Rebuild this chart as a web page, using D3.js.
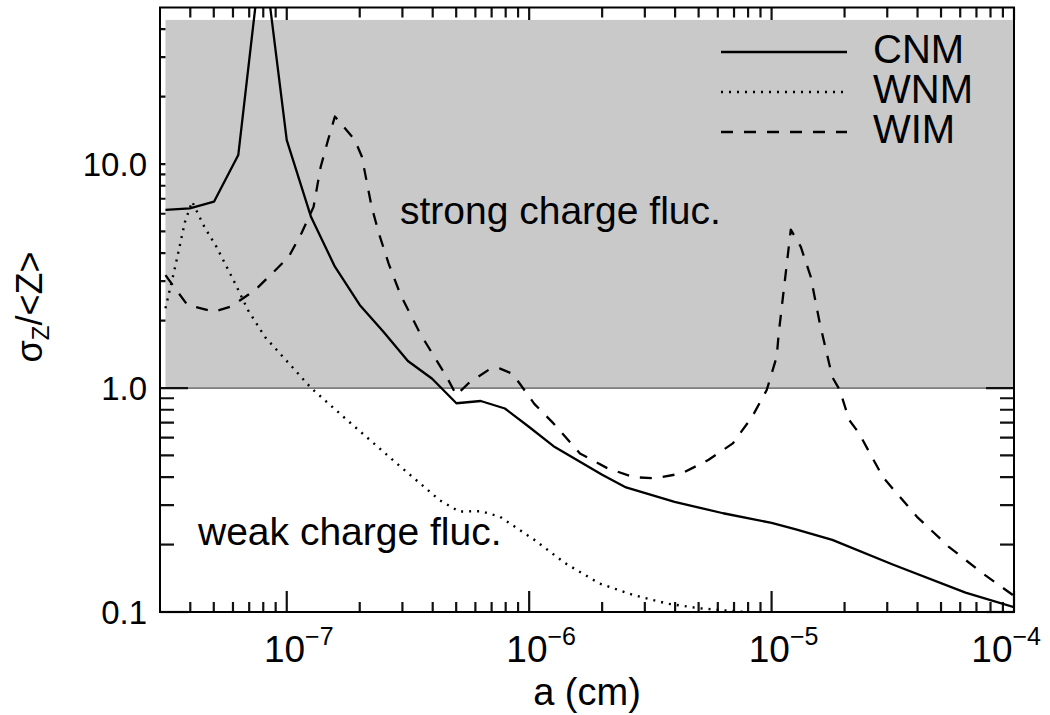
<!DOCTYPE html>
<html>
<head>
<meta charset="utf-8">
<script src="https://cdn.jsdelivr.net/npm/d3@7"></script>
<style>
  html, body { margin: 0; padding: 0; background: #fff; }
  svg { display: block; font-family: "Liberation Sans", Arial, Helvetica, sans-serif; }
</style>
</head>
<body>
<svg id="chart" width="1050" height="715"></svg>
<script>
// Grain radius a (cm) and relative charge fluctuation sigma_Z/<Z> for three ISM phases
const aCNM = [3.16e-8, 3.98e-8, 5.01e-8, 6.31e-8, 7.94e-8, 1.0e-7, 1.26e-7, 1.58e-7, 2.0e-7, 2.51e-7,
  3.16e-7, 3.98e-7, 5.01e-7, 6.31e-7, 7.94e-7, 1.0e-6, 1.26e-6, 2.0e-6, 2.51e-6, 3.98e-6,
  6.31e-6, 1.0e-5, 1.26e-5, 1.78e-5, 3.16e-5, 6.31e-5, 1.0e-4];
const vCNM = [6.24, 6.34, 6.79, 10.97, 95, 12.8, 5.8, 3.48, 2.35, 1.78,
  1.32, 1.1, 0.855, 0.875, 0.81, 0.67, 0.55, 0.41, 0.36, 0.31,
  0.276, 0.25, 0.234, 0.21, 0.163, 0.122, 0.105];

const aWNM = [3.16e-8, 3.47e-8, 3.8e-8, 4.07e-8, 4.57e-8, 5.13e-8, 6.03e-8, 6.92e-8, 8.13e-8, 1.02e-7,
  1.26e-7, 1.74e-7, 2.88e-7, 4.27e-7, 5.13e-7, 6.31e-7, 7.59e-7, 1.05e-6, 1.41e-6, 1.95e-6,
  2.69e-6, 3.72e-6, 5.01e-6, 6.92e-6, 1.0e-5];
const vWNM = [2.27, 3.5, 5.5, 6.8, 5.25, 4.27, 3.03, 2.23, 1.69, 1.29,
  1.0, 0.733, 0.455, 0.316, 0.281, 0.282, 0.266, 0.21, 0.165, 0.134,
  0.119, 0.109, 0.104, 0.101, 0.098];

const aWIM = [3.16e-8, 3.89e-8, 5.01e-8, 5.89e-8, 7.41e-8, 8.71e-8, 1.02e-7, 1.15e-7, 1.29e-7, 1.38e-7,
  1.48e-7, 1.58e-7, 1.91e-7, 2.04e-7, 2.24e-7, 2.4e-7, 2.63e-7, 2.95e-7, 3.55e-7, 4.57e-7,
  5.01e-7, 5.62e-7, 6.92e-7, 7.59e-7, 8.51e-7, 9.12e-7, 1.05e-6, 1.26e-6, 1.62e-6, 2.09e-6,
  2.69e-6, 3.31e-6, 4.27e-6, 5.5e-6, 6.92e-6, 8.32e-6, 9.55e-6, 1.05e-5, 1.07e-5, 1.2e-5,
  1.32e-5, 1.45e-5, 1.58e-5, 1.78e-5, 1.91e-5, 2.09e-5, 2.29e-5, 2.88e-5, 3.98e-5, 5.37e-5,
  7.41e-5, 1.0e-4];
const vWIM = [3.19, 2.35, 2.19, 2.31, 2.74, 3.25, 3.86, 4.91, 6.44, 9.7,
  12.8, 16.3, 12.8, 10.8, 6.44, 4.9, 3.6, 2.6, 1.75, 1.12,
  0.93, 1.05, 1.22, 1.22, 1.16, 1.05, 0.85, 0.695, 0.51, 0.44,
  0.40, 0.395, 0.416, 0.478, 0.566, 0.745, 0.98, 1.38, 1.75, 5.1,
  4.27, 3.14, 1.95, 1.12, 0.98, 0.72, 0.63, 0.40, 0.266, 0.196,
  0.149, 0.118];

const seriesNames = ["CNM", "WNM", "WIM"];

// Axis ranges and ticks
const xDomain = [3e-8, 1e-4];
const yDomain = [0.1, 50];
const xMajor = [1e-7, 1e-6, 1e-5, 1e-4];
const xMajorExp = ["−7", "−6", "−5", "−4"];
const xMinor = [4e-8, 5e-8, 6e-8, 7e-8, 8e-8, 9e-8,
  2e-7, 3e-7, 4e-7, 5e-7, 6e-7, 7e-7, 8e-7, 9e-7,
  2e-6, 3e-6, 4e-6, 5e-6, 6e-6, 7e-6, 8e-6, 9e-6,
  2e-5, 3e-5, 4e-5, 5e-5, 6e-5, 7e-5, 8e-5, 9e-5];
const yMajor = [0.1, 1, 10];
const yMajorLabels = ["0.1", "1.0", "10.0"];
const yMinor = [0.2, 0.3, 0.4, 0.5, 0.6, 0.7, 0.8, 0.9, 2, 3, 4, 5, 6, 7, 8, 9, 20, 30, 40];

// Shaded "strong fluctuation" band: sigma/<Z> above unity
const shadeA = [3.16e-8, 1e-4];
const shadeV = [1, 44];

const annotations = ["strong charge fluc.", "weak charge fluc."];

// ---- layout ----
const svg = d3.select("#chart");
const L = 160, R = 1014, T = 7.5, B = 612;
const x = d3.scaleLog().domain(xDomain).range([L, R]);
const y = d3.scaleLog().domain(yDomain).range([B, T]);
const bandX0 = x(shadeA[0]), bandX1 = x(shadeA[1]);
const bandY0 = y(shadeV[1]), bandY1 = y(shadeV[0]);

// shaded band
svg.append("rect")
  .attr("x", bandX0).attr("y", bandY0)
  .attr("width", bandX1 - bandX0)
  .attr("height", bandY1 - bandY0)
  .attr("fill", "#c9c9c9");
svg.append("line")
  .attr("x1", bandX0).attr("x2", bandX1)
  .attr("y1", bandY1).attr("y2", bandY1)
  .attr("stroke", "#7d7d7d").attr("stroke-width", 1.8);

// ticks are hidden wherever the shaded band lies over them
const defs = svg.append("defs");
const tickClip = defs.append("clipPath").attr("id", "tickclip");
tickClip.append("rect").attr("x", 0).attr("y", 0).attr("width", bandX0).attr("height", 715);
tickClip.append("rect").attr("x", 0).attr("y", 0).attr("width", 1050).attr("height", bandY0);
tickClip.append("rect").attr("x", 0).attr("y", bandY1 - 1).attr("width", 1050).attr("height", 715 - bandY1 + 1);

const tickLayer = svg.append("g").attr("clip-path", "url(#tickclip)");
function tickLine(x1, y1, x2, y2) {
  tickLayer.append("line")
    .attr("x1", x1).attr("y1", y1).attr("x2", x2).attr("y2", y2)
    .attr("stroke", "#111")
    .attr("stroke-width", 2.2);
}
xMajor.concat(xMinor).forEach(v => {
  const len = xMajor.includes(v) ? 21 : 10;
  tickLine(x(v), B, x(v), B - len);
  tickLine(x(v), T, x(v), T + len);
});
yMajor.concat(yMinor).forEach(v => {
  const len = yMajor.includes(v) ? 28 : 14;
  tickLine(L, y(v), L + len, y(v));
  tickLine(R, y(v), R - len, y(v));
});

// annotations
svg.append("text").attr("x", 400).attr("y", 224)
  .attr("font-size", 39).attr("fill", "#000").text(annotations[0]);
svg.append("text").attr("x", 198).attr("y", 545)
  .attr("font-size", 39).attr("fill", "#000").text(annotations[1]);

// curves
defs.append("clipPath").attr("id", "plotclip")
  .append("rect").attr("x", L).attr("y", T).attr("width", R - L).attr("height", B - T);

const lineGen = d3.line().x(d => x(d[0])).y(d => y(d[1]));
const dashes = [null, "2,6", "12,11"];
const seriesData = [d3.zip(aCNM, vCNM), d3.zip(aWNM, vWNM), d3.zip(aWIM, vWIM)];
const curves = svg.append("g").attr("clip-path", "url(#plotclip)");
seriesData.forEach((pts, i) => {
  curves.append("path")
    .attr("d", lineGen(pts))
    .attr("fill", "none")
    .attr("stroke", "#000")
    .attr("stroke-width", i === 1 ? 2.4 : 2.3)
    .attr("stroke-linejoin", "round")
    .attr("stroke-dasharray", dashes[i]);
});

// frame
svg.append("rect").attr("x", L).attr("y", T).attr("width", R - L).attr("height", B - T)
  .attr("fill", "none").attr("stroke", "#000").attr("stroke-width", 2);

// tick labels
const yl = svg.append("g").attr("font-size", 33).attr("text-anchor", "end");
yMajor.forEach((v, i) => {
  yl.append("text").attr("x", 147).attr("y", y(v) + 12).text(yMajorLabels[i]);
});
const xl = svg.append("g").attr("font-size", 37);
xMajor.forEach((v, i) => {
  const last = i === xMajor.length - 1;
  const t = xl.append("text")
    .attr("x", last ? 1041 : x(v) + 12)
    .attr("y", 662)
    .attr("text-anchor", last ? "end" : "middle");
  t.append("tspan").text("10");
  t.append("tspan").attr("font-size", 25).attr("dy", -17).text(xMajorExp[i]);
});

// axis titles
svg.append("text").attr("x", 587).attr("y", 705).attr("font-size", 38)
  .attr("text-anchor", "middle").text("a (cm)");
const yt = svg.append("text").attr("transform", "translate(42,307) rotate(-90)")
  .attr("font-size", 36).attr("text-anchor", "middle");
yt.append("tspan").text("σ");
yt.append("tspan").attr("font-size", 24).attr("dy", 7).text("Z");
yt.append("tspan").attr("dy", -7).text("/<Z>");

// legend
const legend = svg.append("g");
seriesNames.forEach((name, i) => {
  const ly = 52 + i * 40;
  legend.append("line").attr("x1", 721).attr("x2", 847).attr("y1", ly).attr("y2", ly)
    .attr("stroke", "#000").attr("stroke-width", 2.3).attr("stroke-dasharray", dashes[i]);
  legend.append("text").attr("x", 873).attr("y", ly + 11)
    .attr("font-size", 40).text(name);
});
</script>
</body>
</html>
